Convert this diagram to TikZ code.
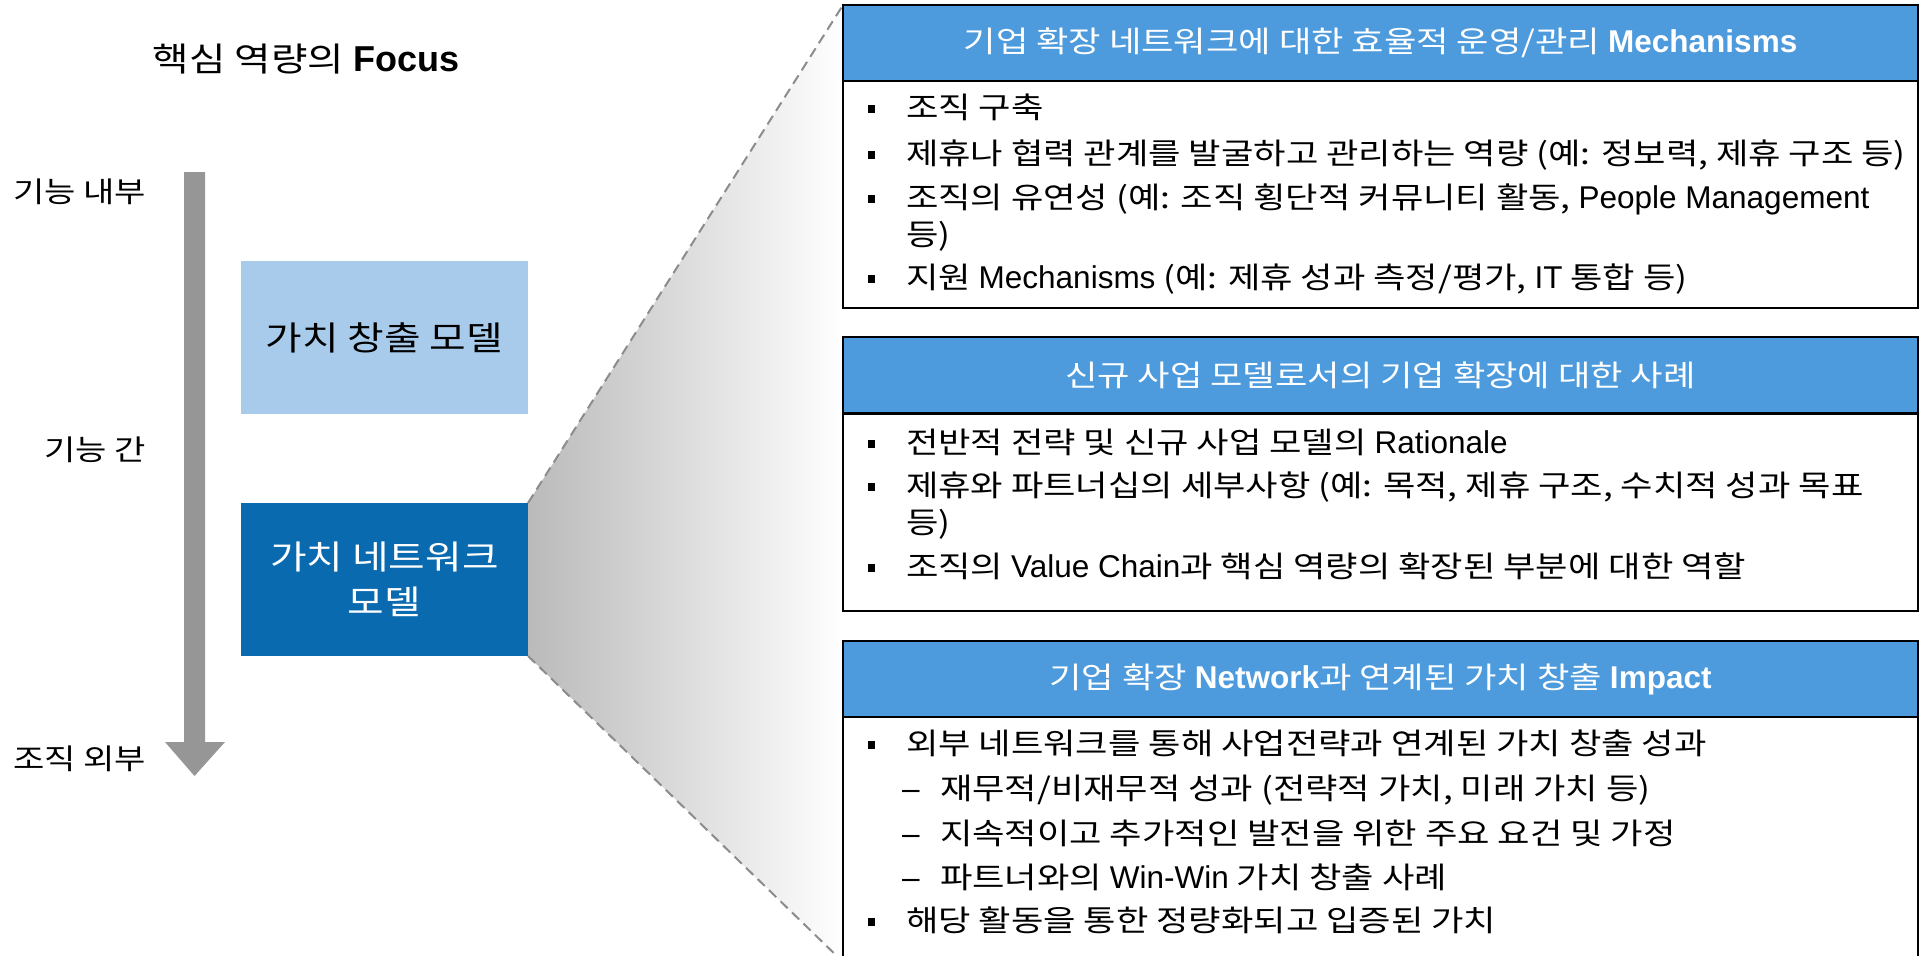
\documentclass[tikz,border=0pt]{standalone}
\usepackage{fontspec}
\setmainfont{Liberation Sans}
\newfontfamily\krfont[FakeStretch=1.19]{Noto Sans CJK KR}
\newcommand\lat[1]{{\rmfamily\mdseries\fontsize{31.5pt}{38pt}\selectfont #1}}
\newcommand\latb[1]{{\rmfamily\bfseries\fontsize{31.5pt}{38pt}\selectfont #1}}
\newcommand\latt[1]{{\rmfamily\bfseries\fontsize{36pt}{40pt}\selectfont #1}}
\definecolor{hdrblue}{RGB}{77,155,220}
\definecolor{lightblue}{RGB}{169,203,235}
\definecolor{darkblue}{RGB}{10,106,175}
\definecolor{arrowgray}{RGB}{150,150,150}
\definecolor{dashgray}{RGB}{140,140,140}
\tikzset{
  bodyfont/.style={font=\krfont\fontsize{29.6pt}{36pt}\selectfont},
  lbl/.style={font=\krfont\fontsize{28.6pt}{36pt}\selectfont, inner sep=0pt, outer sep=0pt, anchor=base east},
  txtline/.style={bodyfont, inner sep=0pt, outer sep=0pt, anchor=base west},
  bul/.style={fill=black, inner sep=0pt, outer sep=0pt, minimum width=7.5pt, minimum height=8pt},
  hdr/.style={draw=black, line width=2.5pt, fill=hdrblue, text=white, minimum width=1075pt, minimum height=76pt, inner sep=0pt, outer sep=0pt, anchor=north west, bodyfont},
  bodyb/.style={draw=black, line width=2.5pt, fill=white, minimum width=1075pt, inner sep=0pt, outer sep=0pt, anchor=north west},
  modelbox/.style={minimum width=287pt, minimum height=153pt, inner sep=0pt, outer sep=0pt, align=center, font=\krfont\fontsize{33.4pt}{45pt}\selectfont},
  dashline/.style={draw=dashgray, line width=2pt, dash pattern=on 10pt off 6pt}
}
\begin{document}
\begin{tikzpicture}[x=1pt,y=-1pt]
\useasboundingbox (0,0) rectangle (1926,955);
\clip (0,0) rectangle (1926,955);

% title
\node[anchor=base, inner sep=0pt, font=\krfont\fontsize{33.3pt}{40pt}\selectfont] (title) at (306,72) {핵심 역량의 \latt{Focus}};

% vertical arrow
\fill[arrowgray] (184,172) -- (205,172) -- (205,742) -- (225,742) -- (194.5,776) -- (165,742) -- (184,742) -- cycle;

% axis labels
\node[lbl] (l1) at (146,202) {기능 내부};
\node[lbl] (l2) at (146,460) {기능 간};
\node[lbl] (l3) at (146,769) {조직 외부};

% model boxes
\node[modelbox, fill=lightblue, text=black] (vc) at (384.5,337.5) {가치 창출 모델};
\node[modelbox, fill=darkblue, text=white] (net) at (384.5,579.5) {가치 네트워크\\모델};

% right boxes (frames)
\node[bodyb, minimum height=227pt] (bA) at (843,81) {};
\node[bodyb, minimum height=197pt] (bB) at (843,414) {};
\node[bodyb, minimum height=246pt] (bC) at (843,716) {};

% zoom fan
\shade[left color=black!27, right color=white] (net.north east) -- (bA.north west |- 0,5) -- (bC.south west) -- (net.south east) -- cycle;
\draw[dashline] (net.north east) -- (bA.north west |- 0,5);
\draw[dashline] (net.south east) -- (bC.south west);

% redraw frames over fan
\node[bodyb, minimum height=227pt] at (843,81) {};
\node[bodyb, minimum height=197pt] at (843,414) {};
\node[bodyb, minimum height=246pt] at (843,716) {};

% headers
\node[hdr] (hA) at (843,5) {기업 확장 네트워크에 대한 효율적 운영/관리 \latb{Mechanisms}};
\node[hdr] (hB) at (843,337) {신규 사업 모델로서의 기업 확장에 대한 사례};
\node[hdr] (hC) at (843,641) {기업 확장 \latb{Network}과 연계된 가치 창출 \latb{Impact}};

% box A content
\node[bul] (bA1) at (871.5,109) {};
\node[bul] (bA2) at (871.5,155) {};
\node[bul] (bA3) at (871.5,199) {};
\node[bul] (bA4) at (871.5,279) {};
\node[txtline] (tA1) at (906,118) {조직 구축};
\node[txtline] (tA2) at (906,164) {제휴나 협력 관계를 발굴하고 관리하는 역량 (예: 정보력, 제휴 구조 등)};
\node[txtline] (tA3) at (906,208) {조직의 유연성 (예: 조직 횡단적 커뮤니티 활동, \lat{People Management}};
\node[txtline] (tA3b) at (906,245) {등)};
\node[txtline] (tA4) at (906,288) {지원 \lat{Mechanisms} (예: 제휴 성과 측정/평가, \lat{IT} 통합 등)};

% box B content
\node[bul] (bB1) at (871.5,444) {};
\node[bul] (bB2) at (871.5,487) {};
\node[bul] (bB3) at (871.5,568) {};
\node[txtline] (tB1) at (906,453) {전반적 전략 및 신규 사업 모델의 \lat{Rationale}};
\node[txtline] (tB2) at (906,496) {제휴와 파트너십의 세부사항 (예: 목적, 제휴 구조, 수치적 성과 목표};
\node[txtline] (tB2b) at (906,533) {등)};
\node[txtline] (tB3) at (906,577) {조직의 \lat{Value Chain}과 핵심 역량의 확장된 부분에 대한 역할};

% box C content
\node[bul] (bC1) at (871.5,745) {};
\node[bul] (bC5) at (871.5,922) {};
\node[txtline] (dC2) at (902,799) {\lat{–}};
\node[txtline] (dC3) at (902,844) {\lat{–}};
\node[txtline] (dC4) at (902,888) {\lat{–}};
\node[txtline] (tC1) at (906,754) {외부 네트워크를 통해 사업전략과 연계된 가치 창출 성과};
\node[txtline] (tC2) at (940,799) {재무적/비재무적 성과 (전략적 가치, 미래 가치 등)};
\node[txtline] (tC3) at (940,844) {지속적이고 추가적인 발전을 위한 주요 요건 및 가정};
\node[txtline] (tC4) at (940,888) {파트너와의 \lat{Win-Win} 가치 창출 사례};
\node[txtline] (tC5) at (906,931) {해당 활동을 통한 정량화되고 입증된 가치};
\end{tikzpicture}
\end{document}
